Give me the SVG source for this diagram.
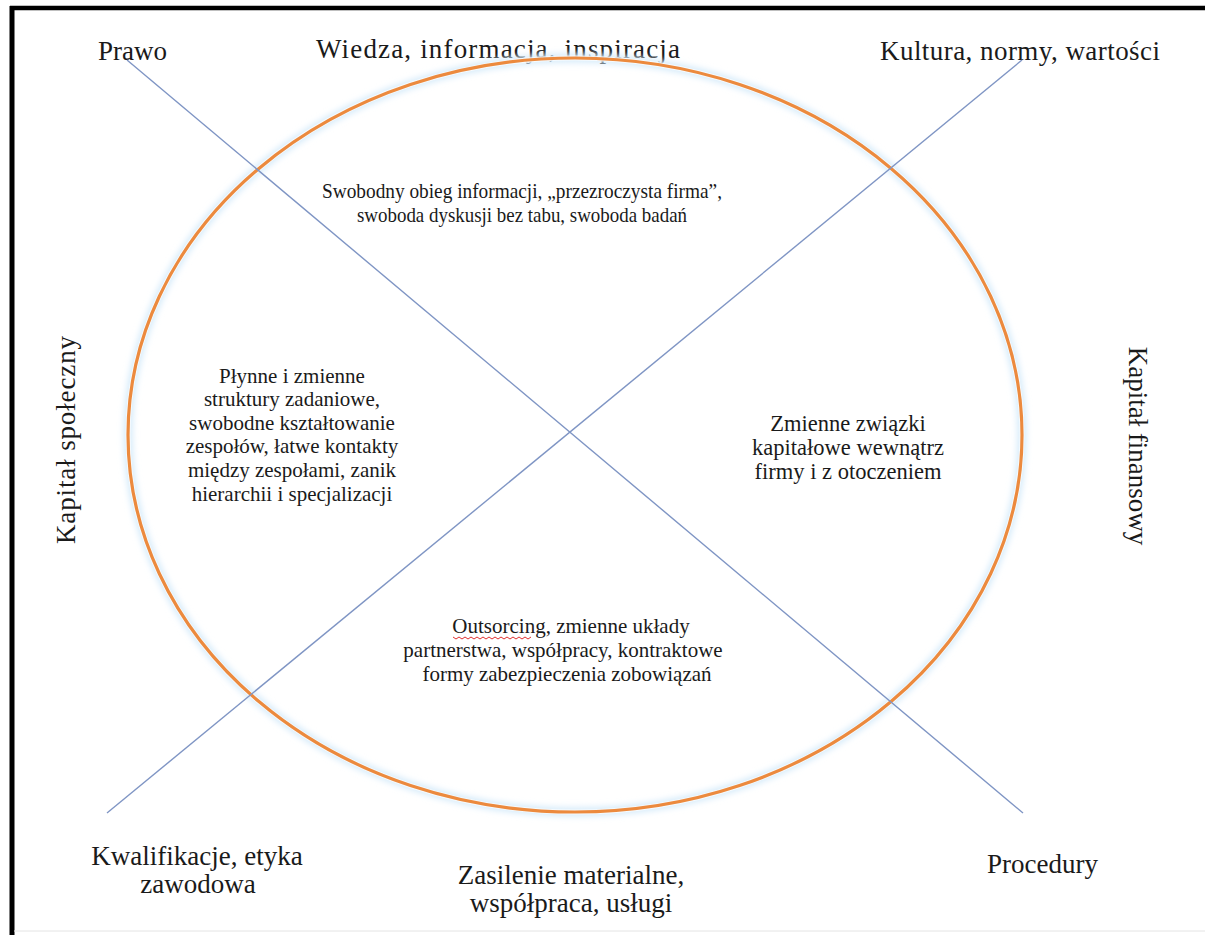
<svg xmlns="http://www.w3.org/2000/svg" width="1205" height="935" viewBox="0 0 1205 935">
<style>
text { font-family: "Liberation Serif", "Times New Roman", serif; fill: #1a1a1a; }
.outer { font-size: 27px; }
.inner { font-size: 21px; text-anchor: middle; }
.axis { stroke: #7f95c4; stroke-width: 1.4; fill: none; }
</style>
<defs>
<filter id="glow" x="-10%" y="-10%" width="120%" height="120%">
<feGaussianBlur stdDeviation="3"/>
</filter>
</defs>
<rect x="0" y="0" width="1205" height="935" fill="#ffffff"/>
<g id="frame">
<line x1="10" y1="8" x2="1205" y2="8" stroke="#000" stroke-width="4.5"/>
<line x1="12" y1="6" x2="12" y2="935" stroke="#000" stroke-width="5"/>
<line x1="14" y1="931" x2="1205" y2="931" stroke="#e4e4e4" stroke-width="1"/>
</g>
<g id="labels-outer">
<text id="prawo" class="outer" x="98" y="60">Prawo</text>
<text id="wiedza" class="outer" x="316" y="58" textLength="364" lengthAdjust="spacing">Wiedza, informacja, inspiracja</text>
<text id="kultura" class="outer" x="880" y="60" textLength="280" lengthAdjust="spacing">Kultura, normy, wartości</text>
<text id="kapital-spoleczny" class="outer" text-anchor="middle" transform="translate(75,440) rotate(-90)" textLength="208" lengthAdjust="spacing">Kapitał społeczny</text>
<text id="kapital-finansowy" class="outer" text-anchor="middle" transform="translate(1129,446) rotate(90)">Kapitał finansowy</text>
<text id="kwalifikacje-1" class="outer" text-anchor="middle" x="197" y="865">Kwalifikacje, etyka</text>
<text id="kwalifikacje-2" class="outer" text-anchor="middle" x="198" y="893">zawodowa</text>
<text id="zasilenie-1" class="outer" text-anchor="middle" x="571" y="884">Zasilenie materialne,</text>
<text id="zasilenie-2" class="outer" text-anchor="middle" x="571" y="912">współpraca, usługi</text>
<text id="procedury" class="outer" x="987" y="873">Procedury</text>
</g>
<g id="ellipse">
<ellipse cx="575" cy="435" rx="447" ry="377" fill="none" stroke="#d6ebfa" stroke-width="9" filter="url(#glow)"/>
<ellipse cx="575" cy="435" rx="447" ry="377" fill="none" stroke="#ffffff" stroke-width="5" opacity="0.7"/>
<ellipse cx="575" cy="435" rx="447" ry="377" fill="none" stroke="#ec8a3e" stroke-width="3.2"/>
</g>
<g id="connectors">
<line class="axis" x1="127" y1="60" x2="1023" y2="813"/>
<line class="axis" x1="107" y1="813" x2="1022" y2="60"/>
</g>
<g id="node-top">
<text class="inner"><tspan x="522" y="198" textLength="400" lengthAdjust="spacingAndGlyphs">Swobodny obieg informacji, „przezroczysta firma”,</tspan><tspan x="522" y="222" textLength="330" lengthAdjust="spacingAndGlyphs">swoboda dyskusji bez tabu, swoboda badań</tspan></text>
</g>
<g id="node-left">
<text class="inner"><tspan x="292" y="383">Płynne i zmienne</tspan><tspan x="292" y="406">struktury zadaniowe,</tspan><tspan x="292" y="430">swobodne kształtowanie</tspan><tspan x="292" y="453">zespołów, łatwe kontakty</tspan><tspan x="292" y="477">między zespołami, zanik</tspan><tspan x="292" y="501">hierarchii i specjalizacji</tspan></text>
</g>
<g id="node-right">
<text class="inner" style="font-size:22.5px"><tspan x="848" y="431">Zmienne związki</tspan><tspan x="848" y="455">kapitałowe wewnątrz</tspan><tspan x="848" y="479">firmy i z otoczeniem</tspan></text>
</g>
<g id="node-bottom">
<text class="inner"><tspan x="571" y="633">Outsorcing, zmienne układy</tspan><tspan x="563" y="657">partnerstwa, współpracy, kontraktowe</tspan><tspan x="567" y="681">formy zabezpieczenia zobowiązań</tspan></text>
<path d="M453 637 l3 2 l3 -2 l3 2 l3 -2 l3 2 l3 -2 l3 2 l3 -2 l3 2 l3 -2 l3 2 l3 -2 l3 2 l3 -2 l3 2 l3 -2 l3 2 l3 -2 l3 2 l3 -2 l3 2 l3 -2 l3 2 l3 -2 l3 2 l3 -2" fill="none" stroke="#e03030" stroke-width="1"/>
</g>
</svg>
